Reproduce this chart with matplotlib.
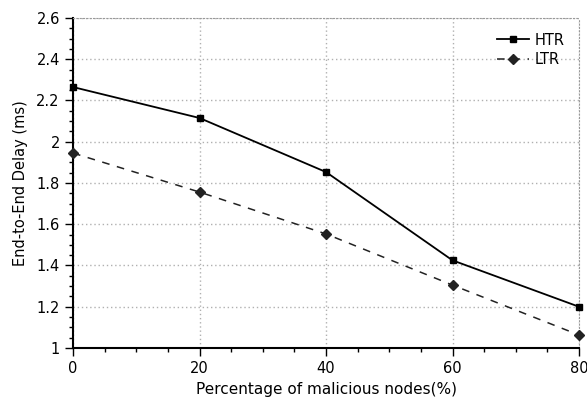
import matplotlib.pyplot as plt
from matplotlib.ticker import MultipleLocator

malicious = [0, 20, 40, 60, 80]
htr = [2.265, 2.115, 1.853, 1.425, 1.2]
ltr = [1.945, 1.756, 1.553, 1.305, 1.063]

plt.rcParams['font.family'] = ['DejaVu Sans']
fig = plt.figure(figsize=(5.87, 4.05), dpi=100)
ax = fig.add_axes([0.1244, 0.1407, 0.862, 0.815])

ax.plot(malicious, htr, color='black', lw=1.3, marker='s', ms=4.5, label='HTR', clip_on=False, zorder=3)
ax.plot(malicious, ltr, color='#222222', lw=1.1, ls=(0, (5, 5)), marker='D', ms=5,
        label='LTR', clip_on=False, zorder=3)

ax.set_xlim(0, 80)
ax.set_ylim(1, 2.6)
ax.xaxis.set_major_locator(MultipleLocator(20))
ax.xaxis.set_minor_locator(MultipleLocator(5))
ax.yaxis.set_major_locator(MultipleLocator(0.2))
ax.yaxis.set_minor_locator(MultipleLocator(0.05))
ax.yaxis.set_major_formatter(plt.FuncFormatter(lambda v, p: f"{v:g}"))

ax.grid(True, which='major', color='#b0b0b0', ls=(0, (1, 2)), lw=1.0)
for s in ['top', 'right']:
    ax.spines[s].set_color('#999999')
    ax.spines[s].set_linestyle((0, (1, 2)))
ax.spines['bottom'].set_linestyle((0, (1, 1)))
ax.spines['bottom'].set_linewidth(1.5)
ax.spines['left'].set_linewidth(1.5)

ax.tick_params(which='major', length=6, width=1, labelsize=10.5, colors='black')
ax.tick_params(which='minor', length=3, width=1)

ax.set_xlabel('Percentage of malicious nodes(%)', fontsize=11, labelpad=4)
ax.set_ylabel('End-to-End Delay (ms)', fontsize=10.5, labelpad=6)
ax.legend(loc='upper right', frameon=False, fontsize=10.5, handlelength=2.2,
          borderaxespad=0.6, handletextpad=0.4, labelspacing=0.3)

fig.savefig('out.png', dpi=100)
